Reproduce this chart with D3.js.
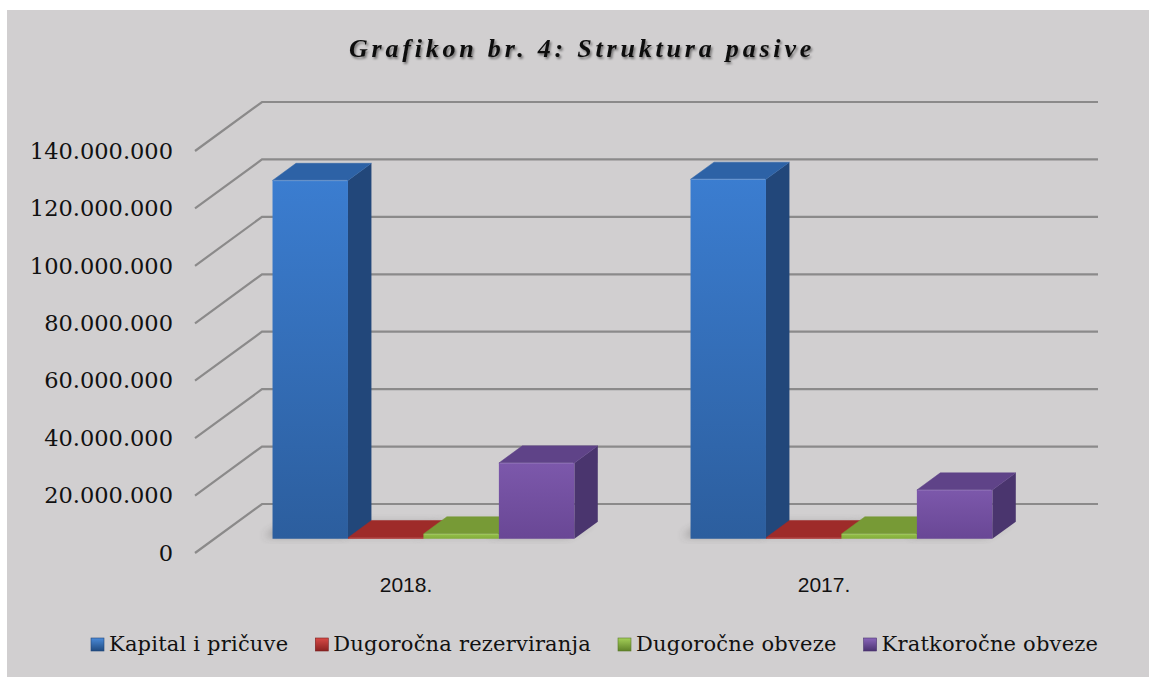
<!DOCTYPE html>
<html>
<head>
<meta charset="utf-8">
<script src="https://cdn.jsdelivr.net/npm/d3@7"></script>
<style>
    html, body { margin: 0; padding: 0; background: #fff; }
    svg { display: block; }
</style>
</head>
<body>
<div id="chart"></div>
<script>
// Chart data
const categories = ['2018.', '2017.'];
const seriesNames = ['Kapital i pričuve', 'Dugoročna rezerviranja', 'Dugoročne obveze', 'Kratkoročne obveze'];
const kapitalPricuve = [124800000, 125200000];
const dugorocnaRezerviranja = [400000, 400000];
const dugorocneObveze = [1700000, 1700000];
const kratkorocneObveze = [26400000, 17000000];
const yTickValues = [0, 20000000, 40000000, 60000000, 80000000, 100000000, 120000000, 140000000];

const seriesValues = [kapitalPricuve, dugorocnaRezerviranja, dugorocneObveze, kratkorocneObveze];

// Config
const config = {
    width: 1149,
    height: 677,
    depth: { dx: 67, dy: -49, front: 0.29, back: 0.64 },
    serif: '"DejaVu Serif", "Liberation Serif", serif',
    colors: [
        { front: ['#3b7dd0', '#2c5e9e'], side: '#22477a', top: '#2d62a6', legend: ['#4a8ad8', '#1f4a80'] },
        { front: ['#bd3431', '#a82d2b'], side: '#7a2020', top: '#9e2b29', legend: ['#d84a46', '#8a2220'] },
        { front: ['#93c048', '#83ac3c'], side: '#5a7a2a', top: '#779a36', legend: ['#a4cf58', '#5f8228'] },
        { front: ['#7c58ab', '#694795'], side: '#4a356e', top: '#5f4388', legend: ['#8a66ba', '#4a3270'] }
    ]
};

const fmt = d3.formatLocale({ decimal: ',', thousands: '.', grouping: [3], currency: ['', ''] }).format(',d');

const svg = d3.select('#chart').append('svg')
    .attr('width', config.width)
    .attr('height', config.height);

const defs = svg.append('defs');

// Background
svg.append('rect')
    .attr('x', 7).attr('y', 10)
    .attr('width', config.width - 7).attr('height', config.height - 10)
    .attr('fill', '#d1cfd0');

// Filters
const ts = defs.append('filter').attr('id', 'titleShadow')
    .attr('x', '-10%').attr('y', '-30%').attr('width', '120%').attr('height', '160%');
ts.append('feDropShadow').attr('dx', 1.5).attr('dy', 2).attr('stdDeviation', 1.2)
    .attr('flood-color', '#000').attr('flood-opacity', 0.45);

const bs = defs.append('filter').attr('id', 'barShadow')
    .attr('x', '-50%').attr('y', '-50%').attr('width', '200%').attr('height', '200%');
bs.append('feGaussianBlur').attr('stdDeviation', 4);

// Gradients
config.colors.forEach((c, i) => {
    const g = defs.append('linearGradient').attr('id', 'front' + i)
        .attr('x1', 0).attr('y1', 0).attr('x2', 0).attr('y2', 1);
    g.append('stop').attr('offset', '0%').attr('stop-color', c.front[0]);
    g.append('stop').attr('offset', '100%').attr('stop-color', c.front[1]);

    const l = defs.append('linearGradient').attr('id', 'legend' + i)
        .attr('x1', 0).attr('y1', 0).attr('x2', 0).attr('y2', 1);
    l.append('stop').attr('offset', '0%').attr('stop-color', c.legend[0]);
    l.append('stop').attr('offset', '100%').attr('stop-color', c.legend[1]);
});

// Scales
const y = d3.scaleLinear().domain([0, 140000000]).range([553, 151]);

const x0 = d3.scaleBand()
    .domain(categories)
    .range([195, 1031])
    .padding(0);

const x1 = d3.scaleBand()
    .domain(d3.range(seriesNames.length))
    .range([0, x0.bandwidth()])
    .paddingInner(0)
    .paddingOuter(0.77);

// Oblique projection: x on front plane, value, depth fraction
const P = (x, v, d) => [x + d * config.depth.dx, y(v) + d * config.depth.dy];
const poly = pts => 'M' + pts.map(p => p.join(',')).join('L') + 'Z';

// Walls / grid lines
const grid = svg.append('g').attr('class', 'grid');
yTickValues.forEach(t => {
    const a = P(x0.range()[0], t, 0);
    const b = P(x0.range()[0], t, 1);
    const c = P(x0.range()[1], t, 1);
    grid.append('path')
        .attr('d', `M${a}L${b}L${c}`)
        .attr('fill', 'none')
        .attr('stroke', '#8b8a8a')
        .attr('stroke-width', 2.2);
});

// Y axis labels
const yAxis = d3.axisLeft(y)
    .tickValues(yTickValues)
    .tickFormat(fmt)
    .tickSize(0)
    .tickPadding(0);

svg.append('g')
    .attr('transform', 'translate(173,0)')
    .call(yAxis)
    .call(g => g.select('.domain').remove())
    .selectAll('text')
    .attr('font-family', config.serif)
    .attr('font-size', 22.5)
    .attr('fill', '#111');

// Bars
const { front: dF, back: dB } = config.depth;
const bars = svg.append('g').attr('class', 'bars');

categories.forEach((cat, ci) => {
    // shadows first
    seriesValues.forEach((vals, si) => {
        const xa = x0(cat) + x1(si);
        const xb = xa + x1.bandwidth();
        const pts = [P(xa - 12, 0, dF + 0.05), P(xa - 6, 0, dB), P(xb - 6, 0, dB), P(xb - 10, 0, dF + 0.05)];
        bars.append('path')
            .attr('d', poly(pts))
            .attr('fill', '#3a3a3a')
            .attr('opacity', si === 1 || si === 2 ? 0.25 : 0.45)
            .attr('filter', 'url(#barShadow)');
    });
    seriesValues.forEach((vals, si) => {
        const v = vals[ci];
        const c = config.colors[si];
        const xa = x0(cat) + x1(si);
        const xb = xa + x1.bandwidth();
        const g = bars.append('g');

        // side face
        g.append('path')
            .attr('d', poly([P(xb, v, dF), P(xb, v, dB), P(xb, 0, dB), P(xb, 0, dF)]))
            .attr('fill', c.side);
        // top face
        g.append('path')
            .attr('d', poly([P(xa, v, dF), P(xa, v, dB), P(xb, v, dB), P(xb, v, dF)]))
            .attr('fill', c.top)
            .attr('stroke', c.top)
            .attr('stroke-width', 0.5);
        // front face
        g.append('path')
            .attr('d', poly([P(xa, v, dF), P(xb, v, dF), P(xb, 0, dF), P(xa, 0, dF)]))
            .attr('fill', `url(#front${si})`);
        // front top edge highlight
        if (y(0) - y(v) > 3) {
            g.append('path')
                .attr('d', `M${P(xa + 1, v, dF)}L${P(xb - 1, v, dF)}`)
                .attr('stroke', '#ffffff')
                .attr('stroke-opacity', 0.15)
                .attr('stroke-width', 1.5);
        }
    });
});

// Category labels
svg.append('g').selectAll('text')
    .data(categories)
    .enter().append('text')
    .attr('x', d => x0(d) + x0.bandwidth() / 2 + 2)
    .attr('y', 592)
    .attr('text-anchor', 'middle')
    .attr('font-family', '"Liberation Sans", Arial, sans-serif')
    .attr('font-size', 21)
    .attr('fill', '#111')
    .text(d => d);

// Title
svg.append('text')
    .attr('x', 582)
    .attr('y', 57)
    .attr('text-anchor', 'middle')
    .attr('font-family', '"Liberation Serif", serif')
    .attr('font-style', 'italic')
    .attr('font-weight', 'bold')
    .attr('font-size', 26)
    .attr('letter-spacing', 3.8)
    .attr('fill', '#111')
    .attr('filter', 'url(#titleShadow)')
    .text('Grafikon br. 4: Struktura pasive');

// Legend
const legend = svg.append('g').attr('class', 'legend');
let lx = 91;
seriesNames.forEach((name, i) => {
    legend.append('rect')
        .attr('x', lx).attr('y', 638)
        .attr('width', 13).attr('height', 13)
        .attr('fill', `url(#legend${i})`)
        .attr('stroke', config.colors[i].side)
        .attr('stroke-width', 0.6);
    const t = legend.append('text')
        .attr('x', lx + 18)
        .attr('y', 651)
        .attr('font-family', config.serif)
        .attr('font-size', 21)
        .attr('letter-spacing', 0.2)
        .attr('fill', '#111')
        .text(name);
    lx += 18 + t.node().getComputedTextLength() + 27;
});
</script>
</body>
</html>
